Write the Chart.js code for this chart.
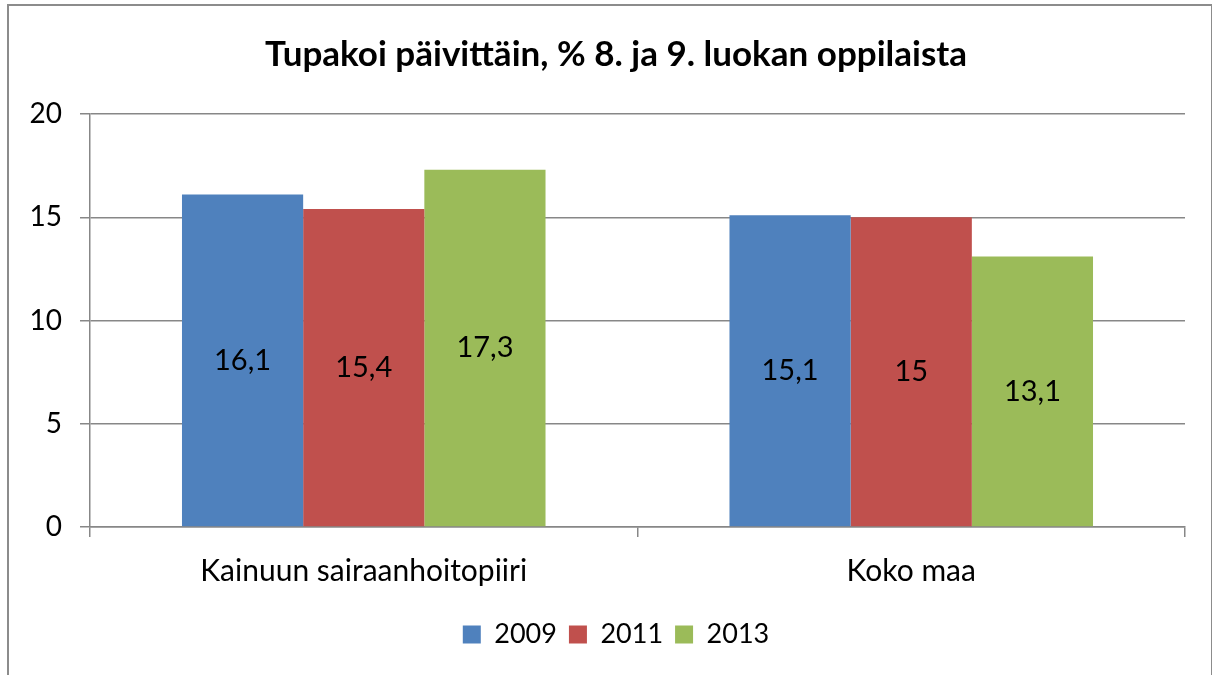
<!DOCTYPE html>
<html>
<head>
<meta charset="utf-8">
<script src="https://cdn.jsdelivr.net/npm/chart.js@4"></script>
<style>
  body { margin: 0; background: #fff; }
  #wrap { position: absolute; left: 0; top: 0; width: 1212px; height: 675px; }
  #frame { position: absolute; left: 7px; top: 4px; width: 1202px; height: 680px;
           border: 2px solid #8c8c8c; pointer-events: none; }
</style>
</head>
<body>
<div id="wrap">
  <canvas id="chart-area" width="1212" height="675"></canvas>
  <div id="frame"></div>
</div>
<script>
var categories = ["Kainuun sairaanhoitopiiri", "Koko maa"];
var years = ["2009", "2011", "2013"];
var values2009 = [16.1, 15.1];
var values2011 = [15.4, 15];
var values2013 = [17.3, 13.1];
var yTicks = [0, 5, 10, 15, 20];
var titleText = "Tupakoi päivittäin, % 8. ja 9. luokan oppilaista";

var colors = ["#4F81BD", "#C0504D", "#9BBB59"];
var font = "Lato";

// arvot palkin keskelle
var centerLabels = {
  id: "centerLabels",
  afterDatasetsDraw: function(chart) {
    var ctx = chart.ctx;
    ctx.save();
    ctx.font = "29px " + font;
    ctx.fillStyle = "#000";
    ctx.textAlign = "center";
    ctx.textBaseline = "middle";
    chart.data.datasets.forEach(function(ds, i) {
      chart.getDatasetMeta(i).data.forEach(function(bar, j) {
        var txt = String(ds.data[j]).replace(".", ",");
        ctx.fillText(txt, bar.x, (bar.y + bar.base) / 2);
      });
    });
    ctx.restore();
  }
};

// otsikko ja selite keskelle kehystä (kuten Excelissä)
var shiftBlocks = {
  id: "shiftBlocks",
  afterLayout: function(chart) {
    if (chart.titleBlock) chart.titleBlock.left = 47;
    if (chart.legend) chart.legend.left = 47;
  }
};

var ctx = document.getElementById("chart-area");
var myChart = new Chart(ctx, {
  type: "bar",
  data: {
    labels: categories,
    datasets: [
      { label: years[0], data: values2009, backgroundColor: colors[0] },
      { label: years[1], data: values2011, backgroundColor: colors[1] },
      { label: years[2], data: values2013, backgroundColor: colors[2] }
    ]
  },
  options: {
    responsive: false,
    animation: false,
    devicePixelRatio: 1,
    categoryPercentage: 0.664,
    barPercentage: 1.0,
    layout: { padding: { left: 0, right: 27, top: 0, bottom: 17 } },
    plugins: {
      title: {
        display: true,
        text: titleText,
        color: "#000",
        font: { family: font, size: 35, weight: "bold" },
        padding: { top: 34, bottom: 38 }
      },
      legend: {
        position: "bottom",
        labels: {
          color: "#000",
          font: { family: font, size: 27 },
          boxWidth: 18,
          boxHeight: 18,
          padding: 12
        }
      },
      tooltip: { enabled: false }
    },
    scales: {
      x: {
        grid: { offset: true, drawOnChartArea: false, drawTicks: true, tickLength: 10, color: "#878787", lineWidth: 1.5 },
        border: { display: true, color: "#878787", width: 1.5 },
        ticks: { color: "#000", font: { family: font, size: 30 }, padding: 16 },
        afterFit: function(scale) { scale.height = 82; }
      },
      y: {
        min: yTicks[0],
        max: yTicks[yTicks.length - 1],
        afterBuildTicks: function(scale) {
          scale.ticks = yTicks.map(function(v) { return { value: v }; });
        },
        grid: { color: "#878787", lineWidth: 1.5, tickLength: 10 },
        border: { display: true, color: "#878787", width: 1.5 },
        ticks: { color: "#000", font: { family: font, size: 28 }, padding: 18 },
        afterFit: function(scale) { scale.width = 90; }
      }
    }
  },
  plugins: [centerLabels, shiftBlocks]
});
</script>
</body>
</html>
